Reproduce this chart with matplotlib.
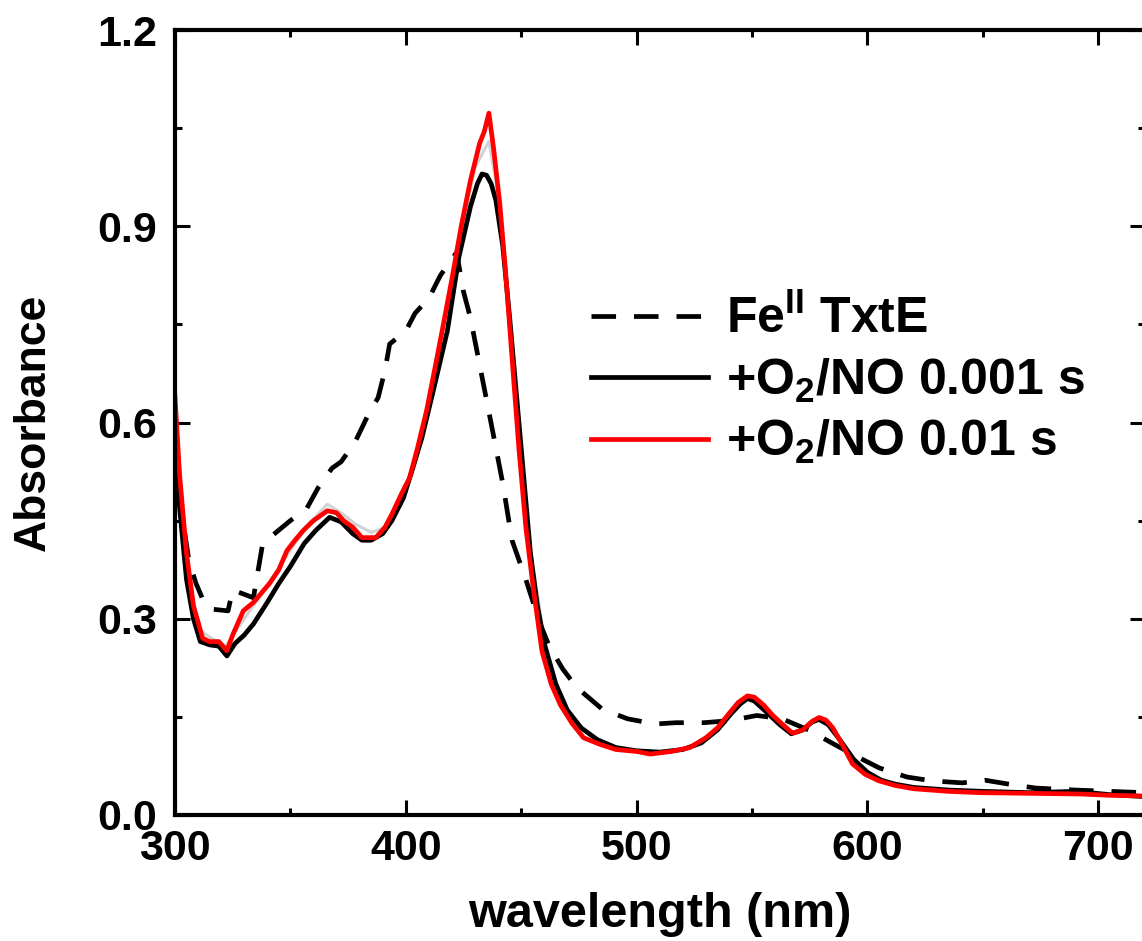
import numpy as np
import matplotlib
matplotlib.use("Agg")
import matplotlib.pyplot as plt
from matplotlib.ticker import MultipleLocator

plt.rcParams['font.family'] = ['Liberation Sans', 'DejaVu Sans']
plt.rcParams['font.weight'] = 'bold'
plt.rcParams['mathtext.fontset'] = 'custom'
plt.rcParams['mathtext.rm'] = 'Liberation Sans:bold'
plt.rcParams['mathtext.bf'] = 'Liberation Sans:bold'
plt.rcParams['mathtext.it'] = 'Liberation Sans:bold'

# Fe(II) TxtE resting state (dashed)
wl_fe = [300, 303, 306, 309, 312, 315, 323, 325, 334, 338, 350, 357, 362, 368, 372, 378,
         384, 388, 391, 393, 400, 404, 410, 415, 419, 422, 425, 428, 433, 438, 442, 446,
         452, 458, 462, 468, 474, 485, 496, 508, 517, 529, 540, 552, 563, 575, 583, 595,
         605, 617, 628, 641, 651, 663, 673, 690, 720]
abs_fe = [0.56, 0.46, 0.39, 0.355, 0.33, 0.315, 0.312, 0.344, 0.332, 0.415, 0.45, 0.468,
          0.50, 0.53, 0.54, 0.57, 0.614, 0.638, 0.68, 0.72, 0.74, 0.767, 0.79, 0.825,
          0.845, 0.86, 0.80, 0.76, 0.67, 0.58, 0.507, 0.42, 0.36, 0.294, 0.259, 0.223,
          0.195, 0.162, 0.147, 0.139, 0.141, 0.141, 0.144, 0.152, 0.147, 0.129, 0.113,
          0.09, 0.072, 0.058, 0.052, 0.049, 0.053, 0.046, 0.041, 0.038, 0.034]

# +O2/NO 0.001 s (black)
wl_1ms = [300, 302, 305, 308, 311, 315, 319, 322.5, 326, 330, 334, 340, 345, 350, 356,
          361, 367, 372, 377, 381, 385, 390, 394, 399, 403, 407, 412, 418, 423, 428,
          431, 433, 435, 437, 439, 442, 445, 448, 451, 454, 457, 460, 465, 470, 476,
          483, 491, 500, 510, 520, 528, 535, 541, 545, 548, 551, 556, 562, 567, 572,
          576, 579, 583, 588, 594, 600, 606, 612, 620, 635, 650, 670, 690, 705, 720]
abs_1ms = [0.58, 0.47, 0.36, 0.30, 0.265, 0.26, 0.258, 0.243, 0.262, 0.275, 0.292, 0.325,
           0.354, 0.38, 0.415, 0.435, 0.455, 0.448, 0.43, 0.42, 0.42, 0.43, 0.45, 0.485,
           0.53, 0.577, 0.65, 0.74, 0.853, 0.93, 0.965, 0.98, 0.978, 0.965, 0.94, 0.87,
           0.76, 0.64, 0.52, 0.40, 0.32, 0.262, 0.20, 0.16, 0.133, 0.115, 0.103, 0.098,
           0.096, 0.10, 0.11, 0.13, 0.155, 0.17, 0.178, 0.174, 0.158, 0.138, 0.124,
           0.13, 0.142, 0.146, 0.138, 0.115, 0.085, 0.065, 0.053, 0.047, 0.042, 0.038,
           0.036, 0.034, 0.036, 0.031, 0.028]

# +O2/NO 0.01 s (red)
wl_10ms = [300, 302, 305, 308, 312, 315, 319, 322.5, 325, 329.6, 334, 341, 345, 348.5,
           352, 355.6, 360, 366, 370, 373, 377, 381, 387, 391, 394, 398, 401.7, 405,
           409, 413, 416, 420, 424, 428, 432, 434, 436, 438, 440.7, 443, 446, 449, 452,
           455, 459, 463, 467, 472, 477, 484, 491, 500, 506, 515, 523, 530, 535, 540,
           544, 548, 551, 555, 559, 563, 567.5, 572, 576, 579, 582, 585, 589, 593.5,
           599, 605, 612, 620, 635, 649, 670, 692, 705, 718]
abs_10ms = [0.64, 0.52, 0.40, 0.32, 0.27, 0.265, 0.265, 0.251, 0.275, 0.312, 0.325,
            0.354, 0.375, 0.404, 0.42, 0.435, 0.45, 0.465, 0.462, 0.45, 0.44, 0.424,
            0.424, 0.44, 0.46, 0.49, 0.516, 0.56, 0.618, 0.69, 0.745, 0.82, 0.90, 0.97,
            1.027, 1.045, 1.073, 1.02, 0.935, 0.84, 0.70, 0.56, 0.44, 0.353, 0.25, 0.20,
            0.168, 0.14, 0.118, 0.108, 0.10, 0.097, 0.093, 0.097, 0.103, 0.118, 0.133,
            0.155, 0.172, 0.182, 0.18, 0.168, 0.152, 0.139, 0.125, 0.13, 0.143, 0.149,
            0.145, 0.133, 0.108, 0.078, 0.062, 0.052, 0.045, 0.04, 0.036, 0.034, 0.033,
            0.032, 0.030, 0.029]

# intermediate time points (light grey, mostly hidden)
wl_grey = [300, 305, 310, 315, 322, 330, 340, 350, 358, 366, 372, 378, 385, 392, 400,
           410, 420, 430, 436, 440, 446, 452, 460]
abs_grey = [0.62, 0.40, 0.285, 0.272, 0.258, 0.30, 0.35, 0.405, 0.445, 0.475, 0.462, 0.445,
            0.432, 0.44, 0.50, 0.62, 0.82, 0.99, 1.03, 0.95, 0.72, 0.45, 0.27]

fig = plt.figure(figsize=(11.42, 9.41), dpi=100)
ax = fig.add_axes([0.1532, 0.134, 0.849, 0.834])

ax.plot(wl_grey, abs_grey, color='#d2d2d2', lw=2.2)
ax.plot(wl_fe, abs_fe, color='black', lw=3.4, ls=(0, (5.2, 3.8)), label=r'Fe$^{\mathrm{II}}$ TxtE')
ax.plot(wl_1ms, abs_1ms, color='black', lw=3.4, label=r'+O$_{\mathrm{2}}$/NO 0.001 s')
ax.plot(wl_10ms, abs_10ms, color='#ff0000', lw=3.4, label=r'+O$_{\mathrm{2}}$/NO 0.01 s')

ax.set_xlim(300, 720)
ax.set_ylim(0, 1.2)
ax.xaxis.set_major_locator(MultipleLocator(100))
ax.xaxis.set_minor_locator(MultipleLocator(50))
ax.yaxis.set_major_locator(MultipleLocator(0.3))
ax.yaxis.set_minor_locator(MultipleLocator(0.15))
ax.yaxis.set_major_formatter(matplotlib.ticker.FormatStrFormatter('%.1f'))

ax.tick_params(which='both', direction='in', top=True, right=True, width=2.2)
ax.tick_params(which='major', length=11, labelsize=31)
ax.tick_params(which='minor', length=5)
ax.tick_params(axis='x', which='major', pad=10)
ax.tick_params(axis='y', which='major', pad=13)
for lab in ax.get_xticklabels() + ax.get_yticklabels():
    lab.set_fontweight('bold')
for sp in ax.spines.values():
    sp.set_linewidth(3)

ax.set_xlabel('wavelength (nm)', fontsize=35, fontweight='bold', labelpad=17)
ax.set_ylabel('Absorbance', fontsize=32, fontweight='bold', labelpad=31)

ax.legend(loc='upper left', bbox_to_anchor=(0.408, 0.687), frameon=False,
          fontsize=36, handlelength=2.35, handletextpad=0.35, labelspacing=0.27,
          borderaxespad=0)

fig.savefig('out.png', dpi=100)
